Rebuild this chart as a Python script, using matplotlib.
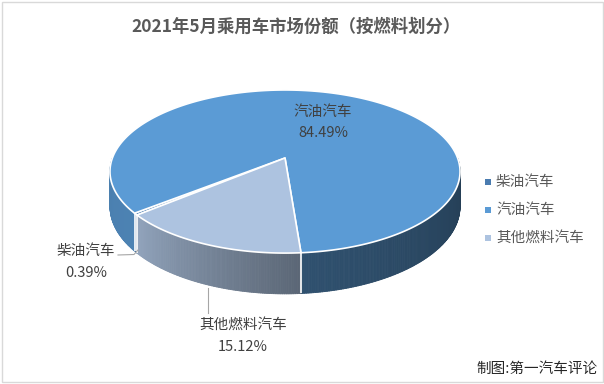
import numpy as np
import matplotlib
matplotlib.use('Agg')
import matplotlib.pyplot as plt
from matplotlib.patches import Polygon, Rectangle
from matplotlib.collections import PolyCollection
from matplotlib.colors import to_rgb

plt.rcParams['font.family'] = ['Noto Sans CJK SC', 'DejaVu Sans']

# data
title = '2021年5月乘用车市场份额（按燃料划分）'
labels = ['柴油汽车', '汽油汽车', '其他燃料汽车']
shares = [0.39, 84.49, 15.12]
colors = ['#4a7cb0', '#5b9bd5', '#adc3e0']
first_angle = 230.0   # clockwise from 12 o'clock, like excel

# 3d pie geometry (pixels), simple perspective
CX, CY = 285.0, 158.0
RX, RY = 172.6, 79.3
PERSP = 0.166
DEPTH = 34.0

def rim(phi, r=1.0, drop=0.0):
    phi = np.radians(phi)
    u = r*np.sin(phi)
    v = -r*np.cos(phi)
    s = 1.0/(1.0 - PERSP*v)
    return CX + RX*u*s, CY + RY*v*s + drop*s

def shade(phi):
    phi = np.mod(phi, 360)
    return np.interp(phi, [90, 175, 230, 270], [0.39, 0.52, 0.84, 0.82])

fig = plt.figure(figsize=(6.04, 3.84), dpi=100)
ax = fig.add_axes([0, 0, 1, 1])
ax.set_xlim(0, 604)
ax.set_ylim(384, 0)
ax.axis('off')

ax.add_patch(Rectangle((1.5, 1.5), 601, 380, fill=False, ec='#d9d9d9', lw=1))

total = sum(shares)
bounds = first_angle + 360.0*np.concatenate([[0], np.cumsum(shares)])/total

# side walls
for i in range(len(shares)):
    a0, a1 = bounds[i], bounds[i+1]
    n = max(2, int((a1-a0)*2))
    phis = np.linspace(a0, a1, n)
    base = np.array(to_rgb(colors[i]))
    quads, cols = [], []
    for p0, p1 in zip(phis[:-1], phis[1:]):
        pm = 0.5*(p0+p1)
        if not (90 <= np.mod(pm, 360) <= 270):
            continue
        x0, y0 = rim(p0)
        x1, y1 = rim(p1)
        x2, y2 = rim(p1, drop=DEPTH)
        x3, y3 = rim(p0, drop=DEPTH)
        quads.append([(x0, y0), (x1, y1), (x2, y2), (x3, y3)])
        cols.append(np.clip(base*shade(pm), 0, 1))
    if quads:
        ax.add_collection(PolyCollection(quads, facecolors=cols, edgecolors=cols, lw=0.6))

# white seams on the side
for b in bounds[:-1]:
    if 90 <= np.mod(b, 360) <= 270:
        xt, yt = rim(b)
        xb, yb = rim(b, drop=DEPTH)
        ax.plot([xt, xb], [yt, yb], color='white', lw=1.2, solid_capstyle='butt')

# top face
for i in range(len(shares)):
    a0, a1 = bounds[i], bounds[i+1]
    n = max(3, int((a1-a0)*2))
    xs, ys = rim(np.linspace(a0, a1, n))
    pts = [(CX, CY)] + list(zip(xs, ys))
    ax.add_patch(Polygon(pts, closed=True, fc=colors[i], ec='white', lw=1.2, joinstyle='round'))

# title
ax.text(296, 27, title, ha='center', va='center', fontsize=12.5,
        fontweight='bold', color='#595959')

# data labels
lab_col = '#404040'
ax.text(323, 112, labels[1], ha='center', va='center', fontsize=10.5, color=lab_col)
ax.text(323, 133, f'{shares[1]:.2f}%', ha='center', va='center', fontsize=10.5, color=lab_col)

ax.text(86, 251, labels[0], ha='center', va='center', fontsize=10.5, color=lab_col)
ax.text(86, 273, f'{shares[0]:.2f}%', ha='center', va='center', fontsize=10.5, color=lab_col)
ax.plot([118, 134, 138], [255, 254.5, 250], color='#a6a6a6', lw=0.8)

ax.text(243, 325, labels[2], ha='center', va='center', fontsize=10.5, color=lab_col)
ax.text(243, 347, f'{shares[2]:.2f}%', ha='center', va='center', fontsize=10.5, color=lab_col)
ax.plot([208, 208], [288, 313], color='#a6a6a6', lw=0.8)

# legend
for i, (lab, c) in enumerate(zip(labels, colors)):
    y = 182 + i*28
    ax.scatter([488], [y], marker='s', s=16, color=c, linewidths=0)
    ax.text(496, y, lab, ha='left', va='center', fontsize=10.5, color='#595959')

ax.text(598, 369, '制图:第一汽车评论', ha='right', va='center', fontsize=10.5, color='#262626')

fig.savefig('out.png', dpi=100)
